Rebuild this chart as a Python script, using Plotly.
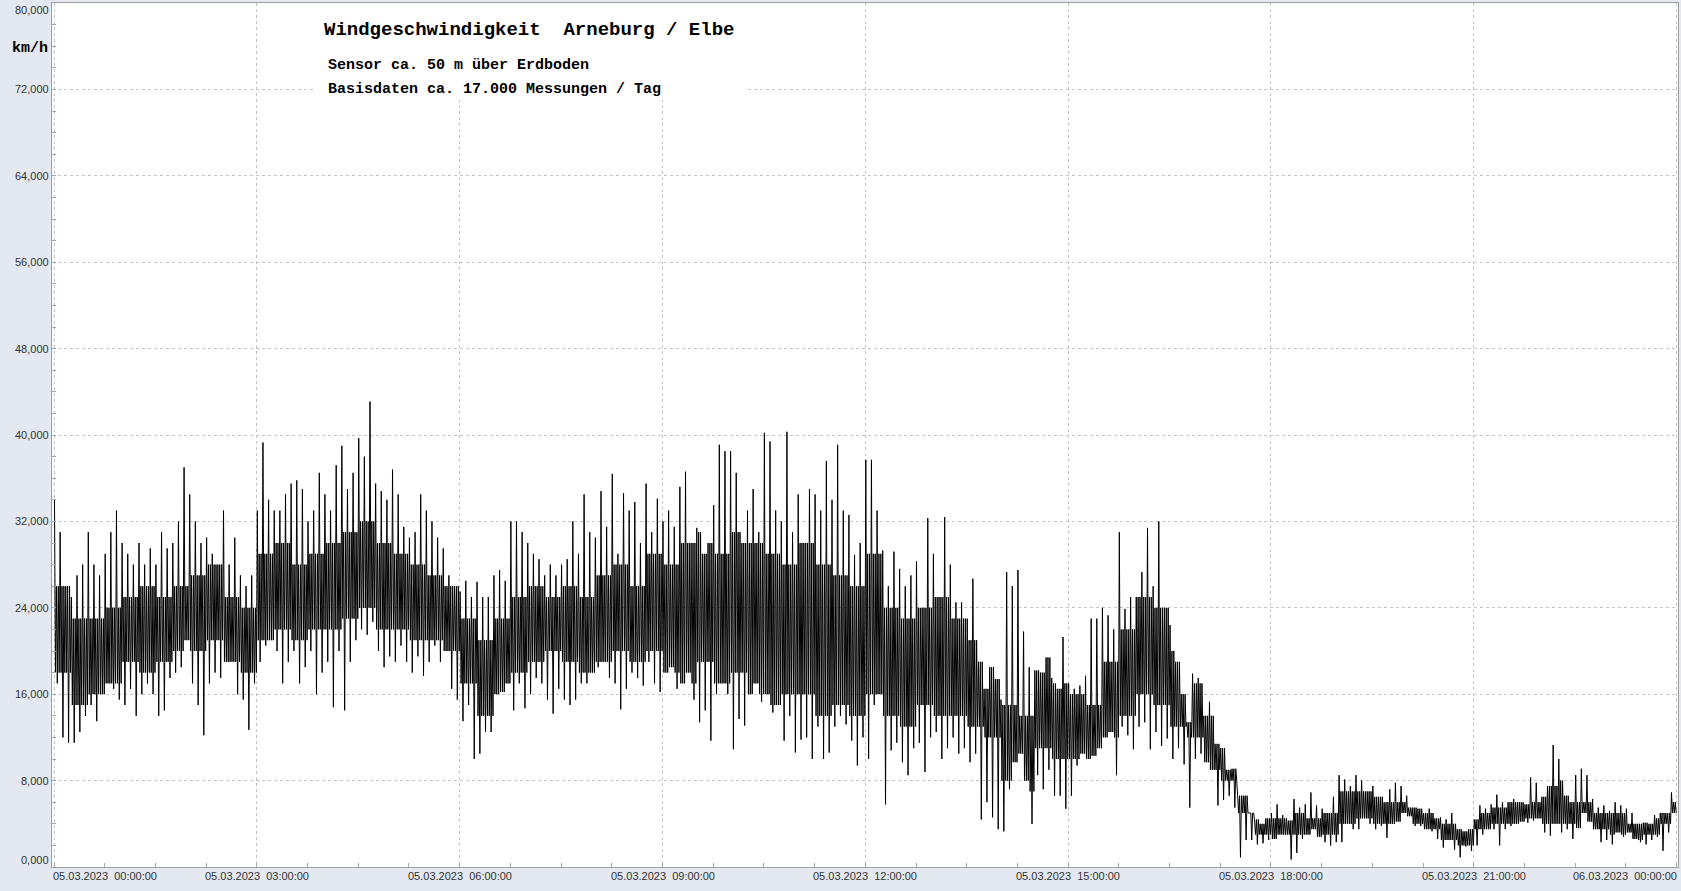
import plotly.graph_objects as go

# ---- data: per 5-minute window, highest and lowest reading (km/h) ----
HI = [
    # 00:00 - 04:00
    34, 31, 26, 25, 27, 28, 31, 28, 27, 29, 31, 33, 30, 29, 28, 30, 28, 29.5, 28, 31,
    29.5, 30, 32, 37, 34.5, 32, 30, 30.5, 29, 28, 33, 28, 30.5, 27, 26, 27, 33, 39.3, 34, 33,
    33, 34.5, 35.5, 35.8, 35, 32, 33, 36.5,
    # 04:00 - 08:00
    34.5, 33, 37.2, 39, 35, 36.5, 39.7, 38, 43.1, 35.5, 34.8, 34, 36.8, 34.5, 31.5, 30.5, 31, 34.5, 33, 32,
    30.5, 29.5, 27, 26, 25.5, 26.5, 25, 26.4, 25, 25, 27, 27.5, 26.5, 32, 32, 31, 30, 29, 28.5, 27,
    28, 27, 28, 28.5, 32, 29, 34.5, 31,
    # 08:00 - 12:00
    30.5, 34.8, 31.5, 36.4, 29, 34.6, 33, 33.8, 30, 35.5, 31, 34.1, 32, 33, 31.5, 35.2, 36.6, 30, 31.4, 29,
    30, 33.5, 39.1, 38.5, 38.5, 36.5, 30, 33, 35, 31, 40.2, 39.4, 33, 32, 40.3, 31, 34.5, 30, 35, 34.5,
    33, 37.6, 34, 39.1, 33, 32.6, 28.9, 30,
    # 12:00 - 16:00
    37.7, 37.7, 33, 29.3, 26, 29.2, 27.6, 26, 27, 28.3, 24, 32.3, 29, 25, 32.4, 28, 24.5, 24.5, 23, 26.7,
    19, 16.5, 18.5, 17.4, 15.5, 27.3, 26, 27.5, 21.8, 18.5, 18.2, 18, 19.4, 17.5, 16.5, 21.3, 17, 16.5, 16.8, 17.7,
    23, 23, 24, 23.3, 22, 31, 23.9, 25,
    # 16:00 - 20:00
    25, 27.3, 31.4, 26, 32, 24, 22.4, 19, 16, 13.4, 17.9, 17.5, 14, 15.3, 11.4, 11, 9, 9.1, 6.6, 6.6,
    5, 4.4, 4, 4.5, 5, 5.8, 4.8, 4.3, 6.3, 5.5, 5.8, 6.9, 5.7, 5.4, 5, 6.5, 8.5, 8.1, 7.5, 8.5,
    8, 7, 7.5, 6.5, 6, 7.2, 7.8, 7.5,
    # 20:00 - 24:00
    6.6, 5.5, 5.4, 5, 5.4, 4.5, 4.6, 4.4, 5, 3.5, 3.3, 3.5, 4.4, 5.7, 5.4, 5.8, 6.7, 6, 6, 6.3,
    6, 5.8, 8.3, 7.8, 6.5, 7.5, 11.3, 10, 6.6, 6, 8.5, 9.1, 8.5, 6.3, 5.5, 5.7, 5.2, 6, 5.7, 5.4,
    5, 4, 4.1, 4, 4.8, 5, 5, 6.9,
]
LO = [
    # 00:00 - 04:00
    17, 12, 11.5, 11.5, 12.5, 14, 15, 13.5, 16, 17, 16.5, 15.5, 15, 16.5, 14, 16, 17, 16, 14, 14.5,
    17.5, 18, 18.5, 21, 17, 15, 12.2, 17, 18, 17.5, 19, 19, 16, 15.5, 12.7, 17, 19, 20.5, 21, 20,
    17, 19, 20, 17, 18.5, 20, 16, 18,
    # 04:00 - 08:00
    19, 14.8, 20, 14.5, 19, 21, 22, 21.5, 22.7, 20, 18.5, 19.5, 19, 20.5, 19, 18, 19.5, 17.7, 19, 20.5,
    19, 20, 16.5, 15.5, 13.5, 15, 10, 10.5, 12.5, 12.5, 16, 16.2, 17, 14.5, 17, 14.7, 16, 17.5, 17, 15.5,
    14.2, 16.5, 15.5, 15, 15.5, 17, 17, 18,
    # 08:00 - 12:00
    18.5, 19, 17.5, 17, 14.6, 16.5, 18, 17.5, 16.8, 19, 17, 16.2, 18, 18.5, 16.5, 17, 18, 15.5, 13.4, 14.5,
    11.7, 16, 17, 16, 10.9, 13.7, 13.1, 16, 17, 15.3, 16, 14.3, 15, 11.7, 14, 10.6, 11.8, 12, 10, 13,
    10, 10.6, 13, 14, 13.2, 11.7, 9.4, 12,
    # 12:00 - 16:00
    10, 15, 16, 5.8, 10.8, 11.5, 9.7, 8.5, 11, 11.5, 8.8, 12, 12.5, 10, 11, 12, 10.5, 11, 9.7, 10.5,
    4.4, 6, 4.6, 3.5, 3.3, 7.2, 9.7, 10.5, 8, 4, 8.5, 7.2, 9, 6.6, 6.6, 5.4, 6.6, 9.4, 10.5, 10,
    10.3, 11, 12, 12.5, 8.5, 13, 12.2, 10.9,
    # 16:00 - 20:00
    13, 13.4, 10.9, 12.5, 11.2, 11.9, 10, 11, 9.5, 5.5, 10, 10.5, 9.7, 9, 5.7, 6.2, 6.6, 5.5, 0.9, 2.5,
    2.5, 2.1, 2.2, 2.5, 2.6, 3, 3, 0.7, 1.3, 2.6, 3, 3.5, 2.8, 2.3, 2, 2.3, 2.3, 4, 3.5, 3.5,
    4.5, 4, 3.5, 3.8, 2.7, 4, 4.2, 5,
    # 20:00 - 24:00
    4.7, 3.8, 3.8, 3.5, 3.3, 2.6, 1.8, 2.5, 1.6, 0.9, 1.9, 1.5, 2, 3, 3.5, 3.5, 2, 3.5, 3.8, 4,
    4.2, 4.1, 4.3, 4.5, 3.2, 2.9, 4, 3.2, 3.5, 2.6, 3.6, 5, 4.2, 3.5, 2.3, 2.5, 2.1, 3.2, 2.8, 3.2,
    2.6, 2.3, 2.1, 2.5, 2.8, 1.5, 3.2, 5,
]
# dense core band (where most readings lie), per quarter hour
CORE_LO = [18, 15, 16, 17, 19, 18, 19, 20, 20, 21, 19, 18, 21, 22, 21, 22,
           22, 23, 24, 22, 22, 21, 21, 20, 17, 14, 16, 18, 19, 20, 19, 18,
           19, 20, 19, 20, 18, 17, 19, 17, 18, 16, 15, 16, 16, 14, 15, 14,
           16, 14, 13, 15, 14, 14, 13, 12, 8, 7, 11, 10, 10, 9, 12, 14,
           16, 15, 13, 12, 9, 8, 5, 3, 2.5, 3, 2.5, 3, 4, 4.5, 4, 4,
           4, 3.5, 2.5, 2, 3.5, 4, 4, 4.5, 4, 4, 3.5, 3.5, 3, 2.5, 3, 4]
CORE_HI = [26, 23, 23, 24, 25, 26, 25, 26, 27, 28, 25, 24, 29, 30, 28, 29,
           30, 31, 32, 30, 29, 28, 27, 26, 23, 21, 23, 25, 26, 25, 26, 25,
           27, 28, 26, 29, 28, 30, 31, 29, 31, 30, 29, 28, 30, 28, 27, 26,
           29, 24, 23, 24, 25, 23, 21, 22, 15, 14, 21, 17, 16, 15, 19, 22,
           25, 24, 20, 17, 14, 13, 9, 5.5, 4.5, 5, 4.5, 5, 7, 7, 6.5, 6,
           5.5, 5, 4, 3.5, 5, 5.5, 6, 6, 7.5, 8, 6, 5, 5, 4, 4.5, 6]
WINDOW_MIN = 5

X_TICK_HOURS = [0, 3, 6, 9, 12, 15, 18, 21, 24]
X_TICK_LABELS = [
    "05.03.2023\u00a0\u00a000:00:00", "05.03.2023\u00a0\u00a003:00:00", "05.03.2023\u00a0\u00a006:00:00",
    "05.03.2023\u00a0\u00a009:00:00", "05.03.2023\u00a0\u00a012:00:00", "05.03.2023\u00a0\u00a015:00:00",
    "05.03.2023\u00a0\u00a018:00:00", "05.03.2023\u00a0\u00a021:00:00", "06.03.2023\u00a0\u00a000:00:00",
]
Y_TICKS = [0, 8, 16, 24, 32, 40, 48, 56, 64, 72, 80]
Y_TICK_LABELS = ["0,000", "8,000", "16,000", "24,000", "32,000", "40,000",
                 "48,000", "56,000", "64,000", "72,000", "80,000"]

TITLE = "Windgeschwindigkeit\u00a0\u00a0Arneburg / Elbe"
SUB1 = "Sensor ca. 50 m über Erdboden"
SUB2 = "Basisdaten ca. 17.000 Messungen / Tag"
UNIT = "km/h"

# ---- build series: within each window the extremes and the core band readings ----
xs, ys = [], []
for i, (h, l) in enumerate(zip(HI, LO)):
    q = (i * WINDOW_MIN) // 15
    clo = min(max(CORE_LO[q], l), h)
    chi = max(min(CORE_HI[q], h), l)
    seq = [h, clo, chi, l, chi, clo]
    step = WINDOW_MIN / len(seq)
    for j, v in enumerate(seq):
        xs.append((i * WINDOW_MIN + (j + 0.5) * step) / 60.0)
        ys.append(v)

fig = go.Figure()
fig.add_trace(go.Scatter(x=xs, y=ys, mode="lines",
                         line=dict(color="#000000", width=1, simplify=False),
                         hoverinfo="skip", showlegend=False))

W, H = 1681, 891
ML, MR, MT, MB = 52, 3, 3, 24
PW, PH = W - ML - MR, H - MT - MB

grid = dict(showgrid=True, gridcolor="#c4c4c4", griddash="3px,3px", gridwidth=1,
            showline=True, linecolor="#a0a0a0", linewidth=1, mirror=True,
            zeroline=False, showticklabels=False,
            ticks="inside", ticklen=4, tickcolor="#a8a8a8")

fig.update_layout(
    width=W, height=H,
    margin=dict(l=ML, r=MR, t=MT, b=MB),
    paper_bgcolor="#e4e8f0", plot_bgcolor="#ffffff",
    font=dict(family="Liberation Sans, Arial, sans-serif", size=11, color="#333333"),
    xaxis=dict(range=[-0.03, 24.02], tick0=0, dtick=3,
               minor=dict(ticks="inside", ticklen=4, dtick=0.75, tick0=0, tickcolor="#a8a8a8",
                          showgrid=False),
               **grid),
    yaxis=dict(range=[0, 80], tick0=0, dtick=8,
               minor=dict(ticks="inside", ticklen=4, dtick=2, tick0=0, tickcolor="#a8a8a8",
                          showgrid=False),
               **grid),
    showlegend=False,
)

# white box behind the header text
fig.add_shape(type="rect", xref="paper", yref="paper",
              x0=(314 - ML) / PW, x1=(747 - ML) / PW, y0=(H - MB - 100) / PH, y1=1.0,
              fillcolor="#ffffff", line=dict(width=0), layer="above")

ann = []
for v, t in zip(Y_TICKS, Y_TICK_LABELS):
    a = dict(x=0, xref="paper", y=v, yref="y", text=t, showarrow=False,
             xanchor="right", xshift=-1, font=dict(size=11, color="#333333"))
    if v == 80:
        a.update(yanchor="top", yshift=1)
    elif v == 0:
        a.update(yanchor="bottom", yshift=-1)
    else:
        a.update(yanchor="middle")
    ann.append(a)
for hr, t in zip(X_TICK_HOURS, X_TICK_LABELS):
    a = dict(x=hr, xref="x", y=0, yref="paper", text=t, showarrow=False,
             yanchor="top", yshift=-1, font=dict(size=11, color="#333333"))
    if hr == 0:
        a.update(xanchor="left", xshift=-3)
    elif hr == 24:
        a.update(xanchor="right", xshift=2)
    else:
        a.update(xanchor="center")
    ann.append(a)

mono = "Liberation Mono, Courier New, monospace"
def px_ann(text, left, ycen, size):
    return dict(x=(left - ML) / PW, y=(H - MB - ycen) / PH, xref="paper", yref="paper",
                text="<b>" + text + "</b>", showarrow=False, xanchor="left", yanchor="middle",
                font=dict(family=mono, size=size, color="#000000"))

ann.append(px_ann(TITLE, 322, 30, 19))
ann.append(px_ann(SUB1, 326, 66, 15))
ann.append(px_ann(SUB2, 326, 89, 15))
ann.append(px_ann(UNIT, 10, 49, 15))

fig.update_layout(annotations=ann)
fig.write_html("out.html", config={"displayModeBar": False},
               post_script="document.body.style.margin='0';document.body.style.overflow='hidden';")
